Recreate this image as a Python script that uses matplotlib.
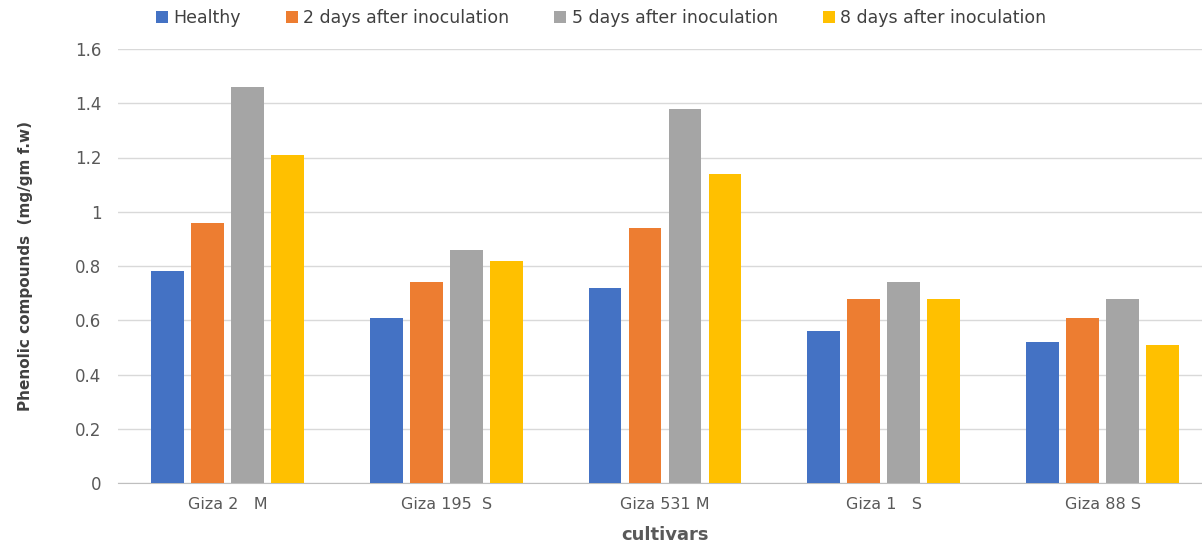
import matplotlib
matplotlib.use("Agg")
import matplotlib.pyplot as plt
import numpy as np

cultivars = ["Giza 2   M", "Giza 195  S", "Giza 531 M", "Giza 1   S", "Giza 88 S"]
series_names = ["Healthy", "2 days after inoculation", "5 days after inoculation", "8 days after inoculation"]
healthy = [0.78, 0.61, 0.72, 0.56, 0.52]
days2 = [0.96, 0.74, 0.94, 0.68, 0.61]
days5 = [1.46, 0.86, 1.38, 0.74, 0.68]
days8 = [1.21, 0.82, 1.14, 0.68, 0.51]
yticks = [0, 0.2, 0.4, 0.6, 0.8, 1, 1.2, 1.4, 1.6]
ytick_labels = ["0", "0.2", "0.4", "0.6", "0.8", "1", "1.2", "1.4", "1.6"]

colors = ["#4472C4", "#ED7D31", "#A5A5A5", "#FFC000"]

plt.rcParams['font.family'] = ['DejaVu Sans']

fig = plt.figure(figsize=(12.02, 5.42), dpi=100)
ax = fig.add_axes([118/1202, 1 - 483/542, 1094/1202, (483 - 49)/542])

x = np.arange(len(cultivars))
slot = 0.183
width = 0.15
for i, (vals, name, c) in enumerate(zip([healthy, days2, days5, days8], series_names, colors)):
    ax.bar(x + (i - 1.5) * slot, vals, width, color=c, label=name, zorder=3)

ax.set_xlim(-0.5, len(cultivars) - 0.5)
ax.set_ylim(0, 1.6)
ax.set_yticks(yticks)
ax.set_yticklabels(ytick_labels)
ax.set_xticks(x)
ax.set_xticklabels(cultivars)
ax.grid(axis='y', color='#D9D9D9', linewidth=1, zorder=0)
for s in ['left', 'right', 'top']:
    ax.spines[s].set_visible(False)
ax.spines['bottom'].set_color('#BFBFBF')
ax.tick_params(axis='both', length=0, colors='#595959')
ax.tick_params(axis='x', pad=10, labelsize=11.5)
ax.tick_params(axis='y', pad=12, labelsize=12)

ax.set_ylabel("Phenolic compounds  (mg/gm f.w)", fontsize=11, fontweight='bold', color='#404040', labelpad=30)
ax.set_xlabel("cultivars", fontsize=13, fontweight='bold', color='#595959', labelpad=10)

fig.legend(loc='upper center', bbox_to_anchor=(0.5, 1.012), ncol=4, frameon=False,
           fontsize=12.5, handlelength=0.7, handleheight=0.7, handletextpad=0.3,
           columnspacing=2.6, labelcolor='#404040')

fig.savefig("out.png", dpi=100)
